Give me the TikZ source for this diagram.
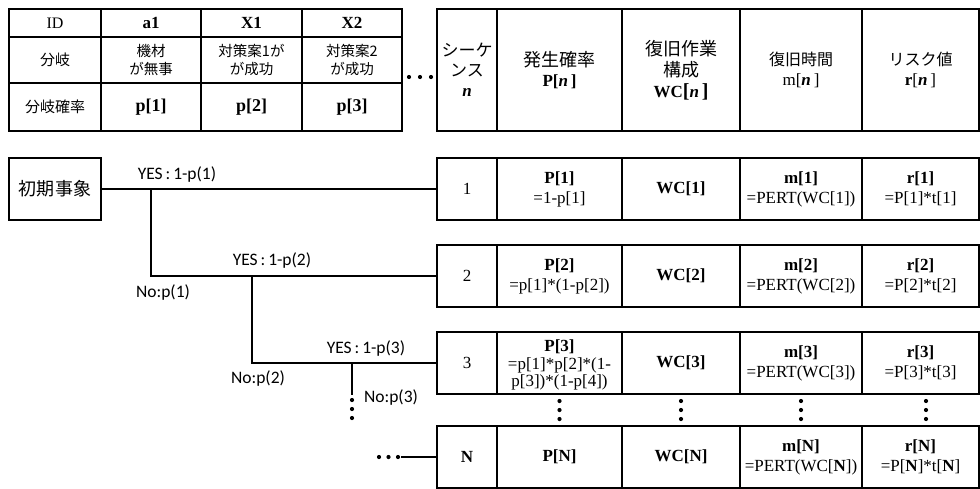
\documentclass[tikz,border=0pt]{standalone}
\usepackage{fontspec}
\setmainfont{Liberation Serif}
\newfontfamily\cjk{Noto Sans CJK JP}
\newfontfamily\calfont{Carlito}
\begin{document}
\begin{tikzpicture}[x=1pt,y=-1pt,
  cell/.style={draw, line width=1.3pt, inner sep=0pt, align=center,
    font=\fontsize{17}{20}\selectfont},
  wh/.style 2 args={minimum width=#1, minimum height=#2},
  tree/.style={line width=2.2pt},
  lbl/.style={inner sep=0pt, font=\calfont\fontsize{17.5}{19}\selectfont},
  jpa/.style={font=\cjk\fontsize{15}{18}\selectfont},
  dotc/.style={fill=black}]
\useasboundingbox (0,0) rectangle (980,488);

% ---------- top-left table ----------
\node[cell,wh={92}{28},font=\fontsize{16}{19}\selectfont] (h11) at (55,23) {ID};
\node[cell,wh={100}{28}] (h12) at (151,23) {\textbf{a1}};
\node[cell,wh={101}{28}] (h13) at (251.5,23) {\textbf{X1}};
\node[cell,wh={100}{28}] (h14) at (352,23) {\textbf{X2}};
\node[cell,wh={92}{46},jpa] (h21) at (55,60) {分岐};
\node[cell,wh={100}{46},font=\cjk\fontsize{14.5}{18}\selectfont] (h22) at (151,60) {機材\\が無事};
\node[cell,wh={101}{46},font=\cjk\fontsize{14.5}{18}\selectfont] (h23) at (251.5,60) {対策案1が\\が成功};
\node[cell,wh={100}{46},font=\cjk\fontsize{14.5}{18}\selectfont] (h24) at (352,60) {対策案2\\が成功};
\node[cell,wh={92}{48},jpa] (h31) at (55,107) {分岐確率};
\node[cell,wh={100}{48},font=\bfseries\fontsize{18}{20}\selectfont] (h32) at (151,107) {p[1]};
\node[cell,wh={101}{48},font=\bfseries\fontsize{18}{20}\selectfont] (h33) at (251.5,107) {p[2]};
\node[cell,wh={100}{48},font=\bfseries\fontsize{18}{20}\selectfont] (h34) at (352,107) {p[3]};

% dots between tables
\foreach \x in {409,420,431} \fill[dotc] (\x,77) circle (2.1);

% ---------- top-right header ----------
\node[cell,wh={60}{122},font=\fontsize{17}{20}\selectfont] (hn) at (467,70)
  {{\cjk シーケ}\\{\cjk ンス}\\\textbf{\textit{n}}};
\node[cell,wh={125}{122},font=\fontsize{17}{20}\selectfont] (hp) at (559.5,70)
  {{\cjk\fontsize{18}{20}\selectfont 発生確率}\\\textbf{P[\textit{n}\,]}};
\node[cell,wh={118}{122},font=\fontsize{17}{21}\selectfont] (hw) at (681,70)
  {{\cjk\fontsize{18}{20}\selectfont 復旧作業}\\{\cjk\fontsize{18}{20}\selectfont 構成}\\\textbf{WC}{\fontsize{20}{20}\selectfont\textbf{[}}\textbf{\textit{n}\,}{\fontsize{20}{20}\selectfont\textbf{]}}};
\node[cell,wh={122}{122},font=\fontsize{17}{20}\selectfont] (hm) at (801,70)
  {{\cjk\fontsize{16}{19}\selectfont 復旧時間}\\m[\textbf{\textit{n}}\,]};
\node[cell,wh={117}{122},font=\fontsize{17}{20}\selectfont] (hr) at (920.5,70)
  {{\cjk\fontsize{16}{19}\selectfont リスク値}\\\textbf{r}[\textbf{\textit{n}}\,]};

% ---------- initial event ----------
\node[cell,wh={92}{62},font=\cjk\fontsize{18}{20}\selectfont] (init) at (55,189) {初期事象};

% ---------- sequence rows ----------
% row 1
\node[cell,wh={60}{62}] (s1) at (467,189) {1};
\node[cell,wh={125}{62}] (p1) at (559.5,189) {\textbf{P[1]}\\=1-p[1]};
\node[cell,wh={118}{62}] (w1) at (681,189) {\textbf{WC[1]}};
\node[cell,wh={122}{62}] (m1) at (801,189) {\textbf{m[1]}\\=PERT(WC[1])};
\node[cell,wh={117}{62}] (q1) at (920.5,189) {\textbf{r[1]}\\=P[1]*t[1]};
% row 2
\node[cell,wh={60}{62}] (s2) at (467,276) {2};
\node[cell,wh={125}{62}] (p2) at (559.5,276) {\textbf{P[2]}\\=p[1]*(1-p[2])};
\node[cell,wh={118}{62}] (w2) at (681,276) {\textbf{WC[2]}};
\node[cell,wh={122}{62}] (m2) at (801,276) {\textbf{m[2]}\\=PERT(WC[2])};
\node[cell,wh={117}{62}] (q2) at (920.5,276) {\textbf{r[2]}\\=P[2]*t[2]};
% row 3
\node[cell,wh={60}{62}] (s3) at (467,363) {3};
\node[cell,wh={125}{62}] (p3) at (559.5,363) {};
\node[inner sep=0pt, align=center, font=\fontsize{17}{17.5}\selectfont] (p3t) at (559.5,365)
  {\textbf{P[3]}\\=p[1]*p[2]*(1-\\p[3])*(1-p[4])};
\node[cell,wh={118}{62}] (w3) at (681,363) {\textbf{WC[3]}};
\node[cell,wh={122}{62}] (m3) at (801,363) {\textbf{m[3]}\\=PERT(WC[3])};
\node[cell,wh={117}{62}] (q3) at (920.5,363) {\textbf{r[3]}\\=P[3]*t[3]};
% row N
\node[cell,wh={60}{62}] (sN) at (467,457) {\textbf{N}};
\node[cell,wh={125}{62}] (pN) at (559.5,457) {\textbf{P[N]}};
\node[cell,wh={118}{62}] (wN) at (681,457) {\textbf{WC[N]}};
\node[cell,wh={122}{62}] (mN) at (801,457) {\textbf{m[N]}\\=PERT(WC[\textbf{N}])};
\node[cell,wh={117}{62}] (qN) at (920.5,457) {\textbf{r[N]}\\=P[\textbf{N}]*t[\textbf{N}]};

% vertical dots between row 3 and N
\foreach \x in {559.5,681,801,926}
  \foreach \y in {401,410,419} \fill[dotc] (\x,\y) circle (2.1);

% ---------- tree ----------
\coordinate (b1) at (151,189);
\coordinate (b2) at (252,276);
\coordinate (b3) at (352,363);
\coordinate (b3e) at (352,395);
\coordinate (nstart) at (401,457);
\draw[tree] (init.east) -- (s1.west);
\draw[tree] (b1) |- (s2.west);
\draw[tree] (b2) |- (s3.west);
\draw[tree] (b3) -- (b3e);
\draw[tree] (nstart) -- (sN.west);
\foreach \y in {400,409,418} \fill[dotc] (352,\y) circle (2.1);
\foreach \x in {379,388.5,398} \fill[dotc] (\x,457) circle (2.1);

% labels
\node[lbl] (l1) at (177,175) {YES\,:\,1-p(1)};
\node[lbl] (l2) at (272,261) {YES\,:\,1-p(2)};
\node[lbl] (l3) at (163,293) {No:p(1)};
\node[lbl] (l4) at (366,349) {YES\,:\,1-p(3)};
\node[lbl] (l5) at (258,379) {No:p(2)};
\node[lbl] (l6) at (391,398) {No:p(3)};
\end{tikzpicture}
\end{document}
